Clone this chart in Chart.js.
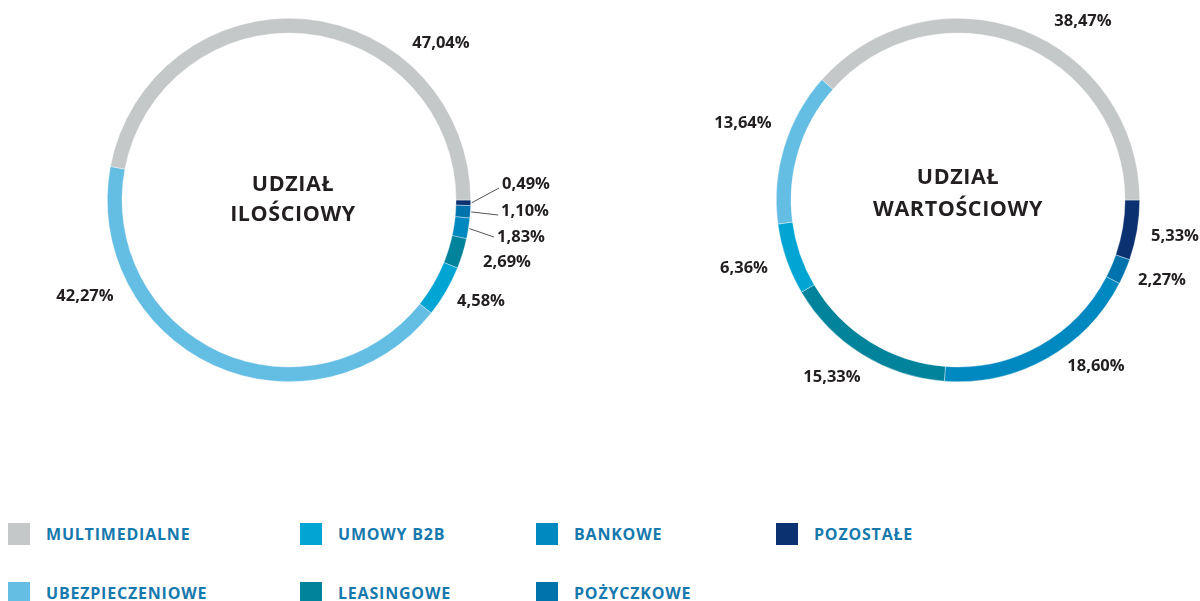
<!DOCTYPE html>
<html><head><meta charset="utf-8">
<script src="https://cdn.jsdelivr.net/npm/chart.js@4.4.1/dist/chart.umd.min.js"></script>
<style>
html,body{margin:0;padding:0;background:#fff;width:1200px;height:601px;overflow:hidden;font-family:"Open Sans",sans-serif;}
.wrap{position:absolute;top:0;}
#legend{position:absolute;left:8px;top:523px;display:grid;grid-template-columns:292px 236px 240px 200px;grid-template-rows:59px 59px;grid-auto-flow:column;}
.li{display:flex;align-items:flex-start;height:22px;}
.sw{width:22px;height:22px;flex:none;}
.lt{margin-left:16px;font-weight:700;font-size:16px;line-height:22px;color:#1679ae;letter-spacing:0.8px;}
</style></head>
<body>
<div class="wrap" style="left:0"><canvas id="c1" width="600" height="420"></canvas></div>
<div class="wrap" style="left:600px"><canvas id="c2" width="600" height="420"></canvas></div>
<div id="legend"></div>
<script>
// ---- data ----
const categories = ['MULTIMEDIALNE','UBEZPIECZENIOWE','UMOWY B2B','LEASINGOWE','BANKOWE','POŻYCZKOWE','POZOSTAŁE'];
const colors = ['#c5c8c9','#64bde3','#00a5d3','#00839b','#0088c0','#0073ad','#0b3170'];
const iloscioweShare = [47.04, 42.27, 4.58, 2.69, 1.83, 1.10, 0.49];
const wartoscioweShare = [38.47, 13.64, 6.36, 15.33, 18.60, 2.27, 5.33];
const titleIlosciowy = ['UDZIAŁ','ILOŚCIOWY'];
const titleWartosciowy = ['UDZIAŁ','WARTOŚCIOWY'];

// label placement (pixels from ring centre), per category
const labelPosIlosciowy = [[152,-157],[-204,96],[192,101],[218,62],[232,37],[236,11],[237,-16]];
const labelPosWartosciowy = [[125,-179],[-215,-77],[-214,68],[-126,177],[138,166],[204,80],[217,36]];
const leaderIlosciowy = [false,false,false,false,true,true,true];
const leaderWartosciowy = [false,false,false,false,false,false,false];

const fmt = v => v.toFixed(2).replace('.', ',') + '%';

function labelPlugin(values, pos, leaders, title, titleDy){
  return {
    id:'lbl',
    afterDatasetsDraw(chart){
      const ctx = chart.ctx;
      const meta = chart.getDatasetMeta(0);
      const n = values.length;
      ctx.save();
      ctx.font = '700 16.5px "Open Sans"';
      ctx.fillStyle = '#231f20';
      ctx.textBaseline = 'middle';
      meta.data.forEach((arc, j) => {
        const i = n - 1 - j; // chart order is reversed
        const p = arc.getProps(['x','y','startAngle','endAngle','outerRadius'], true);
        const tx = p.x + pos[i][0], ty = p.y + pos[i][1];
        const txt = fmt(values[i]);
        const w = ctx.measureText(txt).width;
        ctx.textAlign = 'center';
        ctx.fillText(txt, tx, ty);
        if (leaders[i]) {
          const mid = (p.startAngle + p.endAngle) / 2;
          const sx = p.x + Math.cos(mid) * (p.outerRadius + 1);
          const sy = p.y + Math.sin(mid) * (p.outerRadius + 1);
          const ex = tx - w/2 - 3;
          const ey = ty + (ty < sy ? 4 : (ty - sy > 4 ? 0 : 1));
          ctx.strokeStyle = '#555';
          ctx.lineWidth = 1;
          ctx.beginPath(); ctx.moveTo(sx, sy); ctx.lineTo(ex, ey); ctx.stroke();
        }
      });
      const p0 = meta.data[0].getProps(['x','y'], true);
      ctx.textAlign = 'center';
      ctx.font = '700 21.5px "Open Sans"';
      ctx.letterSpacing = '0.6px';
      ctx.fillStyle = '#231f20';
      ctx.fillText(title[0], p0.x + titleDy[0], p0.y + titleDy[1]);
      ctx.fillText(title[1], p0.x + titleDy[0], p0.y + titleDy[2]);
      ctx.restore();
    }
  };
}

function makeChart(id, values, pos, leaders, title, padding, titleDy){
  const rev = values.slice().reverse();
  const cols = colors.slice().reverse();
  return new Chart(document.getElementById(id), {
    type:'doughnut',
    data:{ labels: categories.slice().reverse(), datasets:[{ data: rev, backgroundColor: cols, borderWidth: 0.6, borderColor:'rgba(255,255,255,0.6)', hoverOffset:0, offset:0 }]},
    options:{
      responsive:false, animation:false, rotation:90, cutout:167,
      layout:{ padding },
      plugins:{ legend:{display:false}, tooltip:{enabled:false} },
      events:[]
    },
    plugins:[labelPlugin(values, pos, leaders, title, titleDy)]
  });
}

makeChart('c1', iloscioweShare, labelPosIlosciowy, leaderIlosciowy, titleIlosciowy, {top:18,bottom:38,left:0,right:22}, [4,-15,15]);
makeChart('c2', wartoscioweShare, labelPosWartosciowy, leaderWartosciowy, titleWartosciowy, {top:18,bottom:38,left:116,right:0}, [0,-22,10]);

// legend
const lg = document.getElementById('legend');
categories.forEach((c, i) => {
  const d = document.createElement('div'); d.className = 'li';
  d.innerHTML = '<span class="sw" style="background:' + colors[i] + '"></span><span class="lt">' + c + '</span>';
  lg.appendChild(d);
});
</script>
</body></html>
